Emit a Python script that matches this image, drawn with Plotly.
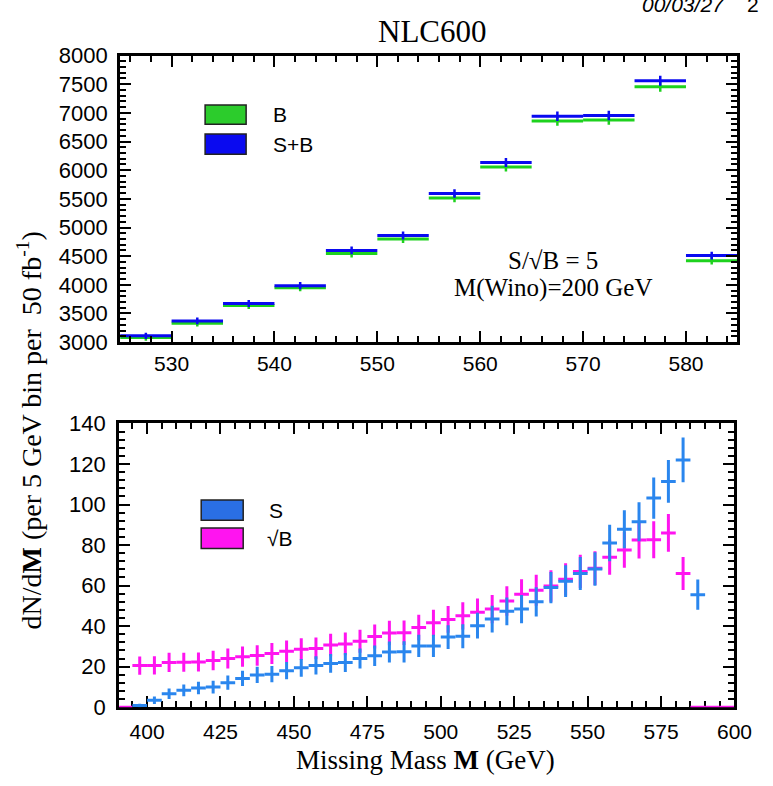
import numpy as np
import plotly.graph_objects as go

# ---------------- data ----------------
BIN_HALF = 2.5  # half of the 5 GeV bin

top_centers = [527.5, 532.5, 537.5, 542.5, 547.5, 552.5, 557.5, 562.5, 567.5, 572.5, 577.5, 582.5]
top_B = [3080, 3330, 3640, 3950, 4545, 4800, 5515, 6055, 6860, 6875, 7455, 4420]
top_SB = [3110, 3370, 3675, 3985, 4600, 4860, 5595, 6135, 6940, 6955, 7560, 4510]

sqrtB_centers = [392.5, 397.5, 402.5, 407.5, 412.5, 417.5, 422.5, 427.5, 432.5, 437.5,
                 442.5, 447.5, 452.5, 457.5, 462.5, 467.5, 472.5, 477.5, 482.5, 487.5,
                 492.5, 497.5, 502.5, 507.5, 512.5, 517.5, 522.5, 527.5, 532.5, 537.5,
                 542.5, 547.5, 552.5, 557.5, 562.5, 567.5, 572.5, 577.5, 582.5, 587.5,
                 592.5, 597.5]
sqrtB_vals = [0, 20.5, 20.6, 22.1, 22.2, 22.3, 23.0, 24.0, 24.9, 25.5,
              26.5, 27.6, 28.6, 29.0, 30.7, 31.2, 32.5, 34.9, 36.6, 36.7,
              39.3, 41.6, 43.3, 45.1, 46.8, 48.4, 52.4, 55.7, 57.7, 59.8,
              63.1, 67.0, 68.6, 74.0, 77.6, 82.5, 82.6, 86.0, 66.0, 0,
              0, 0]

S_centers = [397.5, 402.5, 407.5, 412.5, 417.5, 422.5, 427.5, 432.5, 437.5, 442.5,
             447.5, 452.5, 457.5, 462.5, 467.5, 472.5, 477.5, 482.5, 487.5, 492.5,
             497.5, 502.5, 507.5, 512.5, 517.5, 522.5, 527.5, 532.5, 537.5, 542.5,
             547.5, 552.5, 557.5, 562.5, 567.5, 572.5, 577.5, 582.5, 587.5]
S_vals = [0.8, 3.4, 6.6, 8.3, 9.5, 9.9, 12.1, 14.2, 15.9, 16.3,
          18.0, 19.4, 20.6, 21.6, 22.0, 24.0, 25.4, 27.2, 27.3, 30.2,
          30.2, 34.6, 35.0, 40.2, 43.5, 47.3, 48.4, 52.0, 59.0, 62.2,
          66.0, 68.2, 81.0, 87.8, 91.5, 103.2, 111.4, 122.0, 55.5]

top_yticks = [3000, 3500, 4000, 4500, 5000, 5500, 6000, 6500, 7000, 7500, 8000]
top_xticks = [530, 540, 550, 560, 570, 580]
bot_yticks = [0, 20, 40, 60, 80, 100, 120, 140]
bot_xticks = [400, 425, 450, 475, 500, 525, 550, 575, 600]

# ---------------- layout helpers ----------------
W, H = 773, 786
def px(x):
    return x / W
def py(y):
    return 1 - y / H

SERIF = "Liberation Serif"
SANS = "Liberation Sans"

fig = go.Figure()

def hist_trace(x, y, color, xa, ya, thick_x=3, thick_y=2.5):
    y = np.asarray(y, dtype=float)
    return go.Scatter(
        x=x, y=y, mode="markers", xaxis=xa, yaxis=ya, showlegend=False,
        marker=dict(size=1, color=color, opacity=0),
        error_x=dict(type="constant", value=BIN_HALF, width=0, thickness=thick_x, color=color),
        error_y=dict(type="data", array=np.sqrt(y), width=0, thickness=thick_y, color=color),
        hoverinfo="skip",
    )

# top panel
fig.add_trace(hist_trace(top_centers, top_B, "#1ed21e", "x", "y"))
fig.add_trace(hist_trace(top_centers, top_SB, "#0a0af0", "x", "y"))
# bottom panel
fig.add_trace(hist_trace(sqrtB_centers, sqrtB_vals, "#ff14f0", "x2", "y2", 3, 3))
fig.add_trace(hist_trace(S_centers, S_vals, "#2a86ee", "x2", "y2", 3, 3))

axis_common = dict(
    showgrid=False, zeroline=False, showline=True, linecolor="black", linewidth=3,
    mirror="allticks", ticks="inside", ticklen=11, tickwidth=2, tickcolor="black",
)
def tf(size):
    return dict(family=SANS, size=size, color="black")

fig.update_layout(
    width=W, height=H, margin=dict(l=0, r=0, t=0, b=0),
    paper_bgcolor="white", plot_bgcolor="white", showlegend=False,
    xaxis=dict(domain=[px(123), px(755)], range=[525, 585], anchor="y",
               tickvals=top_xticks, ticklabelstandoff=1, tickfont=tf(21),
               minor=dict(dtick=2, ticks="inside", ticklen=6, tickwidth=2, tickcolor="black"),
               **axis_common),
    yaxis=dict(domain=[py(341), py(45)], range=[3000, 8000], anchor="x",
               tickvals=top_yticks, ticklabelstandoff=5, tickfont=tf(22),
               minor=dict(dtick=100, ticks="inside", ticklen=6, tickwidth=2, tickcolor="black"),
               **axis_common),
    xaxis2=dict(domain=[px(122), px(752)], range=[390.5, 600], anchor="y2",
                tickvals=bot_xticks, ticklabelstandoff=4, layer="below traces", tickfont=tf(21),
                minor=dict(dtick=5, ticks="inside", ticklen=6, tickwidth=2, tickcolor="black"),
                **axis_common),
    yaxis2=dict(domain=[py(718), py(425)], range=[0, 140], anchor="x2",
                tickvals=bot_yticks, ticklabelstandoff=6, tickfont=tf(22),
                minor=dict(dtick=4, ticks="inside", ticklen=6, tickwidth=2, tickcolor="black"),
                **axis_common),
)

shapes = []
def box(x0, y0, x1, y1, color):
    shapes.append(dict(type="rect", xref="paper", yref="paper",
                       x0=px(x0), x1=px(x1), y0=py(y1), y1=py(y0),
                       fillcolor=color, line=dict(color="#222222", width=1.5)))

box(210, 96, 252, 116, "#2ccc2c")
box(210, 126, 252, 147, "#0a0af0")
box(206, 504, 249, 525, "#2a6fe4")
box(206, 533, 249, 554, "#ff14f0")
fig.update_layout(shapes=shapes)

ann = []
def text(x, y, s, size, family, xanchor="center", angle=0, color="black"):
    ann.append(dict(x=px(x), y=py(y), xref="paper", yref="paper", text=s,
                    showarrow=False, xanchor=xanchor, yanchor="middle",
                    textangle=angle, font=dict(family=family, size=size, color=color)))

text(277, 106, "B", 21, SANS, "left")
text(277, 137, "S+B", 21, SANS, "left")
text(273, 515, "S", 21, SANS, "left")
text(271, 544, "√B", 21, SANS, "left")
text(566, 257, "S/√B = 5", 25, SERIF)
text(566, 285, "M(Wino)=200 GeV", 25, SERIF)
text(443, 20, "NLC600", 31, SERIF)
text(436, 773, "Missing Mass <b>M</b> (GeV)", 27, SERIF)
text(30, 432, "dN/d<b>M</b> (per 5 GeV bin per \u00a050 fb<sup>-1</sup>)", 28, SERIF, angle=-90)
text(655, -8, "<i>00/03/27</i>\u00a0\u00a0\u00a0\u00a02", 21, SANS, "left")
fig.update_layout(annotations=ann)

fig.write_html("out.html")
